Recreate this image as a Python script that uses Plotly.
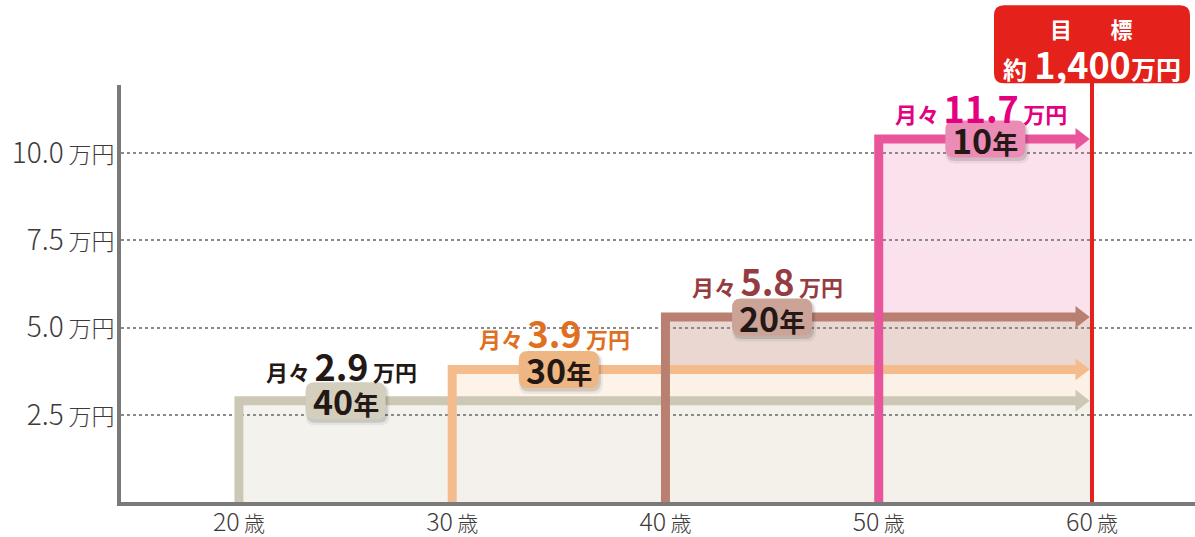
import plotly.graph_objects as go

# ---------------- data ----------------
start_ages = [20, 30, 40, 50]
target_age = 60
levels = [2.9, 3.8, 5.3, 10.4]          # drawn step heights (万円/月)
monthly_labels = ["2.9", "3.9", "5.8", "11.7"]
years_labels = ["40", "30", "20", "10"]
goal_amount = "1,400"
x_tick_ages = [20, 30, 40, 50, 60]
y_tick_vals = [2.5, 5.0, 7.5, 10.0]
y_tick_text = ["2.5", "5.0", "7.5", "10.0"]

# ---------------- styles ----------------
FONT = "Noto Sans CJK JP"
line_colors = ["#cdc8b5", "#f4bb8c", "#b98071", "#e9559a"]
fill_colors = ["rgba(243,241,236,0.92)", "rgba(253,242,232,0.95)", "#ead7d1", "#fbe1ec"]
badge_colors = ["#d4cfbd", "#edb682", "#cca397", "#eb8cb6"]
label_colors = ["#231815", "#e0701f", "#943c3f", "#e4007f"]
label_shift = [36, 37, 37, 32]
RED = "#e4211a"
AXIS = "#7a7a7a"
TSP = "\u2009"


def rrect(w, h, r, dx=0.0, dy=0.0):
    x0, x1 = -w / 2 + dx, w / 2 + dx
    y0, y1 = -h / 2 + dy, h / 2 + dy
    return (f"M{x0 + r},{y0} L{x1 - r},{y0} Q{x1},{y0} {x1},{y0 + r} "
            f"L{x1},{y1 - r} Q{x1},{y1} {x1 - r},{y1} L{x0 + r},{y1} "
            f"Q{x0},{y1} {x0},{y1 - r} L{x0},{y0 + r} Q{x0},{y0} {x0 + r},{y0} Z")


fig = go.Figure()
shapes = []
annotations = []

# filled areas (drawn latest step first so earlier ones sit on top)
for i in reversed(range(len(start_ages))):
    shapes.append(dict(type="rect", xref="x", yref="y",
                       x0=start_ages[i], x1=target_age, y0=0, y1=levels[i],
                       fillcolor=fill_colors[i], line=dict(width=0), layer="below"))

arrow_end = target_age - 0.55
for i, a in enumerate(start_ages):
    fig.add_trace(go.Scatter(x=[a, a, arrow_end], y=[0, levels[i], levels[i]],
                             mode="lines", line=dict(color=line_colors[i], width=9),
                             hoverinfo="skip", showlegend=False))
    fig.add_trace(go.Scatter(x=[arrow_end], y=[levels[i]], mode="markers",
                             marker=dict(symbol="triangle-right", size=19,
                                         color=line_colors[i], line=dict(width=0)),
                             hoverinfo="skip", showlegend=False))

# badges
for i, a in enumerate(start_ages):
    bx = a + 5
    for (ddx, ddy, grow, col) in [(2, -4, 4, "rgba(0,0,0,0.06)"), (1.5, -3, 1, "rgba(0,0,0,0.12)")]:
        shapes.append(dict(type="path", xref="x", yref="y", xsizemode="pixel", ysizemode="pixel",
                           xanchor=bx, yanchor=levels[i],
                           path=rrect(80 + grow, 37 + grow, 9, ddx, ddy),
                           fillcolor=col, line=dict(width=0), layer="above"))
    shapes.append(dict(type="path", xref="x", yref="y", xsizemode="pixel", ysizemode="pixel",
                       xanchor=bx, yanchor=levels[i], path=rrect(80, 37, 9),
                       fillcolor=badge_colors[i], line=dict(width=0), layer="above"))
    annotations.append(dict(x=bx, y=levels[i], xref="x", yref="y", showarrow=False,
                            yanchor="middle",
                            text=f"<b>{years_labels[i]}<span style='font-size:26px'>年</span></b>",
                            font=dict(family=FONT, size=34, color="#231815")))
    annotations.append(dict(x=a + 4.8, y=levels[i], xref="x", yref="y", showarrow=False,
                            yshift=label_shift[i], yanchor="middle",
                            text=(f"<b>月々{TSP}<span style='font-size:36px'>{monthly_labels[i]}</span>"
                                  f"{TSP}万円</b>"),
                            font=dict(family=FONT, size=22, color=label_colors[i])))

# target line and goal box
shapes.append(dict(type="line", xref="x", yref="paper", x0=target_age, x1=target_age,
                   y0=0, y1=1.005, line=dict(color=RED, width=4), layer="above"))
shapes.append(dict(type="path", xref="x", yref="paper", xsizemode="pixel", ysizemode="pixel",
                   xanchor=target_age, yanchor=1.098, path=rrect(196, 78, 10),
                   fillcolor=RED, line=dict(width=0), layer="above"))
annotations.append(dict(x=target_age, y=1.137, xref="x", yref="paper", showarrow=False,
                        xanchor="center", yanchor="middle",
                        text="<b>目\u3000\u2002\u2005標</b>",
                        font=dict(family=FONT, size=22, color="white")))
annotations.append(dict(x=target_age, y=1.053, xref="x", yref="paper", showarrow=False,
                        xanchor="center", yanchor="middle",
                        text=(f"<b>約<span style='font-size:36px'>{TSP}{goal_amount}</span>"
                              f"<span style='font-size:25px'>万円</span></b>"),
                        font=dict(family=FONT, size=24, color="white")))

fig.update_layout(
    width=1195, height=537, autosize=False,
    margin=dict(l=121, r=0, t=85, b=35, pad=0),
    plot_bgcolor="white", paper_bgcolor="white",
    shapes=shapes, annotations=annotations, showlegend=False,
    xaxis=dict(range=[14.47, 64.83], tickvals=x_tick_ages,
               ticktext=[f"{a}<span style='font-size:21px'>{TSP}歳</span>" for a in x_tick_ages],
               tickfont=dict(family=FONT, size=25, color="#3e3a39", weight=300),
               showgrid=False, zeroline=False, showline=True, linecolor=AXIS, linewidth=4,
               ticks="", automargin=False, ticklabelstandoff=-5, fixedrange=True),
    yaxis=dict(range=[0, 11.95], tickvals=y_tick_vals,
               ticktext=[f"{t}<span style='font-size:23px'>{TSP}万円</span>" for t in y_tick_text],
               tickfont=dict(family=FONT, size=28, color="#3e3a39", weight=300),
               showgrid=True, gridcolor="#8a8a8a", griddash="dot", gridwidth=2,
               zeroline=False, showline=True, linecolor=AXIS, linewidth=4,
               ticks="", automargin=False, ticklabelstandoff=-3, fixedrange=True),
)

fig.write_html("out.html", config={"displayModeBar": False},
               post_script="document.body.style.margin='0';document.body.style.overflow='hidden';")
